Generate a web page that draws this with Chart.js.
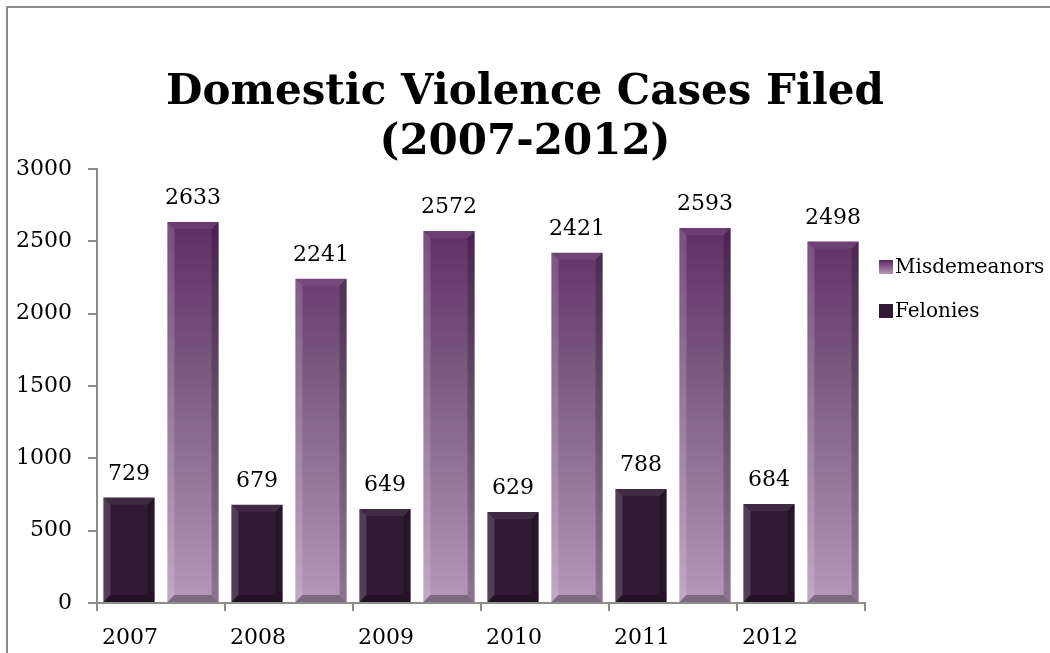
<!DOCTYPE html>
<html>
<head>
<meta charset="utf-8">
<script src="https://cdn.jsdelivr.net/npm/chart.js@4/dist/chart.umd.min.js"></script>
<style>
  html, body { margin: 0; padding: 0; background: #fff; overflow: hidden; }
  #frame { position: absolute; left: 6px; top: 6px; width: 1100px; height: 700px; border: 2px solid #8c8c8c; box-sizing: border-box; }
  #wrap { position: absolute; left: 0; top: 0; width: 1050px; height: 653px; }
</style>
</head>
<body>
<div id="frame"></div>
<div id="wrap"><canvas id="c" width="1050" height="653"></canvas></div>
<script>
const titleLines = ['Domestic Violence Cases Filed', '(2007-2012)'];
const categories = ['2007', '2008', '2009', '2010', '2011', '2012'];
const felonies = [729, 679, 649, 629, 788, 684];
const misdemeanors = [2633, 2241, 2572, 2421, 2593, 2498];
const yTicks = [0, 500, 1000, 1500, 2000, 2500, 3000];

const SERIF = "'DejaVu Serif', serif";
const TITLE_FONT = "bold 42px 'DejaVu Serif', serif";

function misdGradient(ctx, area) {
  const g = ctx.createLinearGradient(0, area.top, 0, area.bottom);
  g.addColorStop(0, '#551d5d');
  g.addColorStop(0.5, '#7e5c84');
  g.addColorStop(1, '#b897bc');
  return g;
}

const bevelPlugin = {
  id: 'bevel',
  afterDatasetsDraw(chart) {
    const ctx = chart.ctx;
    chart.data.datasets.forEach((ds, di) => {
      const meta = chart.getDatasetMeta(di);
      meta.data.forEach(bar => {
        const l = bar.x - bar.width / 2, r = bar.x + bar.width / 2;
        const t = bar.y, b = bar.base;
        const e = Math.min(7, (b - t) / 2);
        ctx.save();
        ctx.fillStyle = 'rgba(255,255,255,0.16)';
        ctx.beginPath(); ctx.moveTo(l, t); ctx.lineTo(l + e, t + e); ctx.lineTo(l + e, b - e); ctx.lineTo(l, b); ctx.closePath(); ctx.fill();
        ctx.fillStyle = 'rgba(255,255,255,0.07)';
        ctx.beginPath(); ctx.moveTo(l, t); ctx.lineTo(r, t); ctx.lineTo(r - e, t + e); ctx.lineTo(l + e, t + e); ctx.closePath(); ctx.fill();
        ctx.fillStyle = 'rgba(0,0,0,0.22)';
        ctx.beginPath(); ctx.moveTo(r, t); ctx.lineTo(r, b); ctx.lineTo(r - e, b - e); ctx.lineTo(r - e, t + e); ctx.closePath(); ctx.fill();
        ctx.fillStyle = 'rgba(0,0,0,0.30)';
        ctx.beginPath(); ctx.moveTo(l, b); ctx.lineTo(r, b); ctx.lineTo(r - e, b - e); ctx.lineTo(l + e, b - e); ctx.closePath(); ctx.fill();
        ctx.restore();
      });
    });
  },
  afterDraw(chart) {
    const ctx = chart.ctx;
    ctx.save();
    ctx.font = '22px ' + SERIF;
    ctx.fillStyle = '#000';
    ctx.textAlign = 'center';
    ctx.textBaseline = 'alphabetic';
    chart.data.datasets.forEach((ds, di) => {
      const meta = chart.getDatasetMeta(di);
      meta.data.forEach((bar, i) => {
        ctx.fillText(String(ds.data[i]), bar.x, bar.y - 18);
      });
    });
    ctx.font = TITLE_FONT;
    ctx.fillText(titleLines[0], 525, 104);
    ctx.fillText(titleLines[1], 525, 154);
    ctx.font = '20px ' + SERIF;
    ctx.textAlign = 'left';
    ctx.textBaseline = 'middle';
    const items = [1, 0];
    items.forEach((di, k) => {
      const ds = chart.data.datasets[di];
      const cy = 267 + k * 44;
      const sx = 879, sy = cy - 7;
      if (di === 1) {
        const g = ctx.createLinearGradient(0, sy, 0, sy + 14);
        g.addColorStop(0, '#5a2462'); g.addColorStop(1, '#b897bc');
        ctx.fillStyle = g;
      } else {
        ctx.fillStyle = '#321a36';
      }
      ctx.fillRect(sx, sy, 14, 14);
      ctx.fillStyle = '#000';
      ctx.fillText(ds.label, sx + 16, cy + 1);
    });
    ctx.restore();
  }
};

new Chart(document.getElementById('c'), {
  type: 'bar',
  data: {
    labels: categories,
    datasets: [
      { label: 'Felonies', data: felonies, backgroundColor: '#321a36', borderWidth: 0,
        categoryPercentage: 1.0, barPercentage: 0.8 },
      { label: 'Misdemeanors', data: misdemeanors,
        backgroundColor: (c) => { const a = c.chart.chartArea; return a ? misdGradient(c.chart.ctx, a) : '#7e5c84'; },
        borderWidth: 0, categoryPercentage: 1.0, barPercentage: 0.8 }
    ]
  },
  options: {
    responsive: false,
    animation: false,
    layout: { padding: { left: 0, top: 169, right: 185, bottom: 0 } },
    plugins: { legend: { display: false }, title: { display: false }, tooltip: { enabled: false } },
    scales: {
      x: {
        offset: true,
        grid: { drawOnChartArea: false, tickLength: 8, color: '#8c8c8c', lineWidth: 2, offset: true },
        border: { color: '#8c8c8c', width: 2 },
        ticks: { color: '#000', font: { family: SERIF, size: 22 }, align: 'start', labelOffset: -59, padding: 14, maxRotation: 0 },
        afterFit(s) { s.height = 50; }
      },
      y: {
        min: 0, max: 3000,
        afterBuildTicks(s) { s.ticks = yTicks.map(v => ({ value: v })); },
        grid: { drawOnChartArea: false, tickLength: 9, color: '#8c8c8c', lineWidth: 2 },
        border: { color: '#8c8c8c', width: 2 },
        ticks: { color: '#000', font: { family: SERIF, size: 22 }, padding: 16, callback: (v) => String(v) },
        afterFit(s) { s.width = 97; }
      }
    }
  },
  plugins: [bevelPlugin]
});
</script>
</body>
</html>
